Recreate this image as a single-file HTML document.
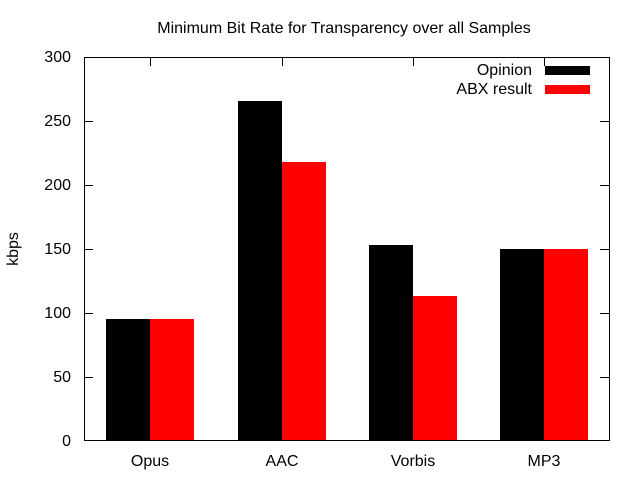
<!DOCTYPE html>
<html><head><meta charset="utf-8"><style>body{margin:0;background:#fff}svg{display:block}text{font-family:"Liberation Sans",sans-serif;font-size:16px;fill:#000}</style></head><body>
<svg width="640" height="480" xmlns="http://www.w3.org/2000/svg">
<text x="344" y="33" text-anchor="middle">Minimum Bit Rate for Transparency over all Samples</text>
<text transform="translate(18,249) rotate(-90)" text-anchor="middle">kbps</text>
<g fill="#000">
<rect x="106" y="319" width="44" height="122"/>
<rect x="238" y="101" width="44" height="340"/>
<rect x="369" y="245" width="44" height="196"/>
<rect x="500" y="249" width="44" height="192"/>
<rect x="545" y="66" width="45" height="9"/>
</g>
<g fill="#f00">
<rect x="150" y="319" width="44" height="122"/>
<rect x="282" y="162" width="44" height="279"/>
<rect x="413" y="296" width="44" height="145"/>
<rect x="544" y="249" width="44" height="192"/>
<rect x="545" y="85" width="45" height="9"/>
</g>
<g stroke="#000" stroke-width="1" fill="none">
<rect x="84.5" y="57.5" width="525" height="383"/>
<path d="M84 377.5h9M84 313.5h9M84 249.5h9M84 185.5h9M84 121.5h9M609 377.5h-9M609 313.5h-9M609 249.5h-9M609 185.5h-9M609 121.5h-9M150.5 57v9M282.5 57v9M413.5 57v9M544.5 57v9"/>
</g>
<g text-anchor="end">
<text x="71" y="446">0</text><text x="71" y="382">50</text><text x="71" y="318">100</text><text x="71" y="254">150</text><text x="71" y="190">200</text><text x="71" y="126">250</text><text x="71" y="62">300</text>
<text x="532" y="75">Opinion</text><text x="532" y="94">ABX result</text>
</g>
<g text-anchor="middle">
<text x="150" y="466">Opus</text><text x="282" y="466">AAC</text><text x="413" y="466">Vorbis</text><text x="544" y="466">MP3</text>
</g>
</svg>
</body></html>
